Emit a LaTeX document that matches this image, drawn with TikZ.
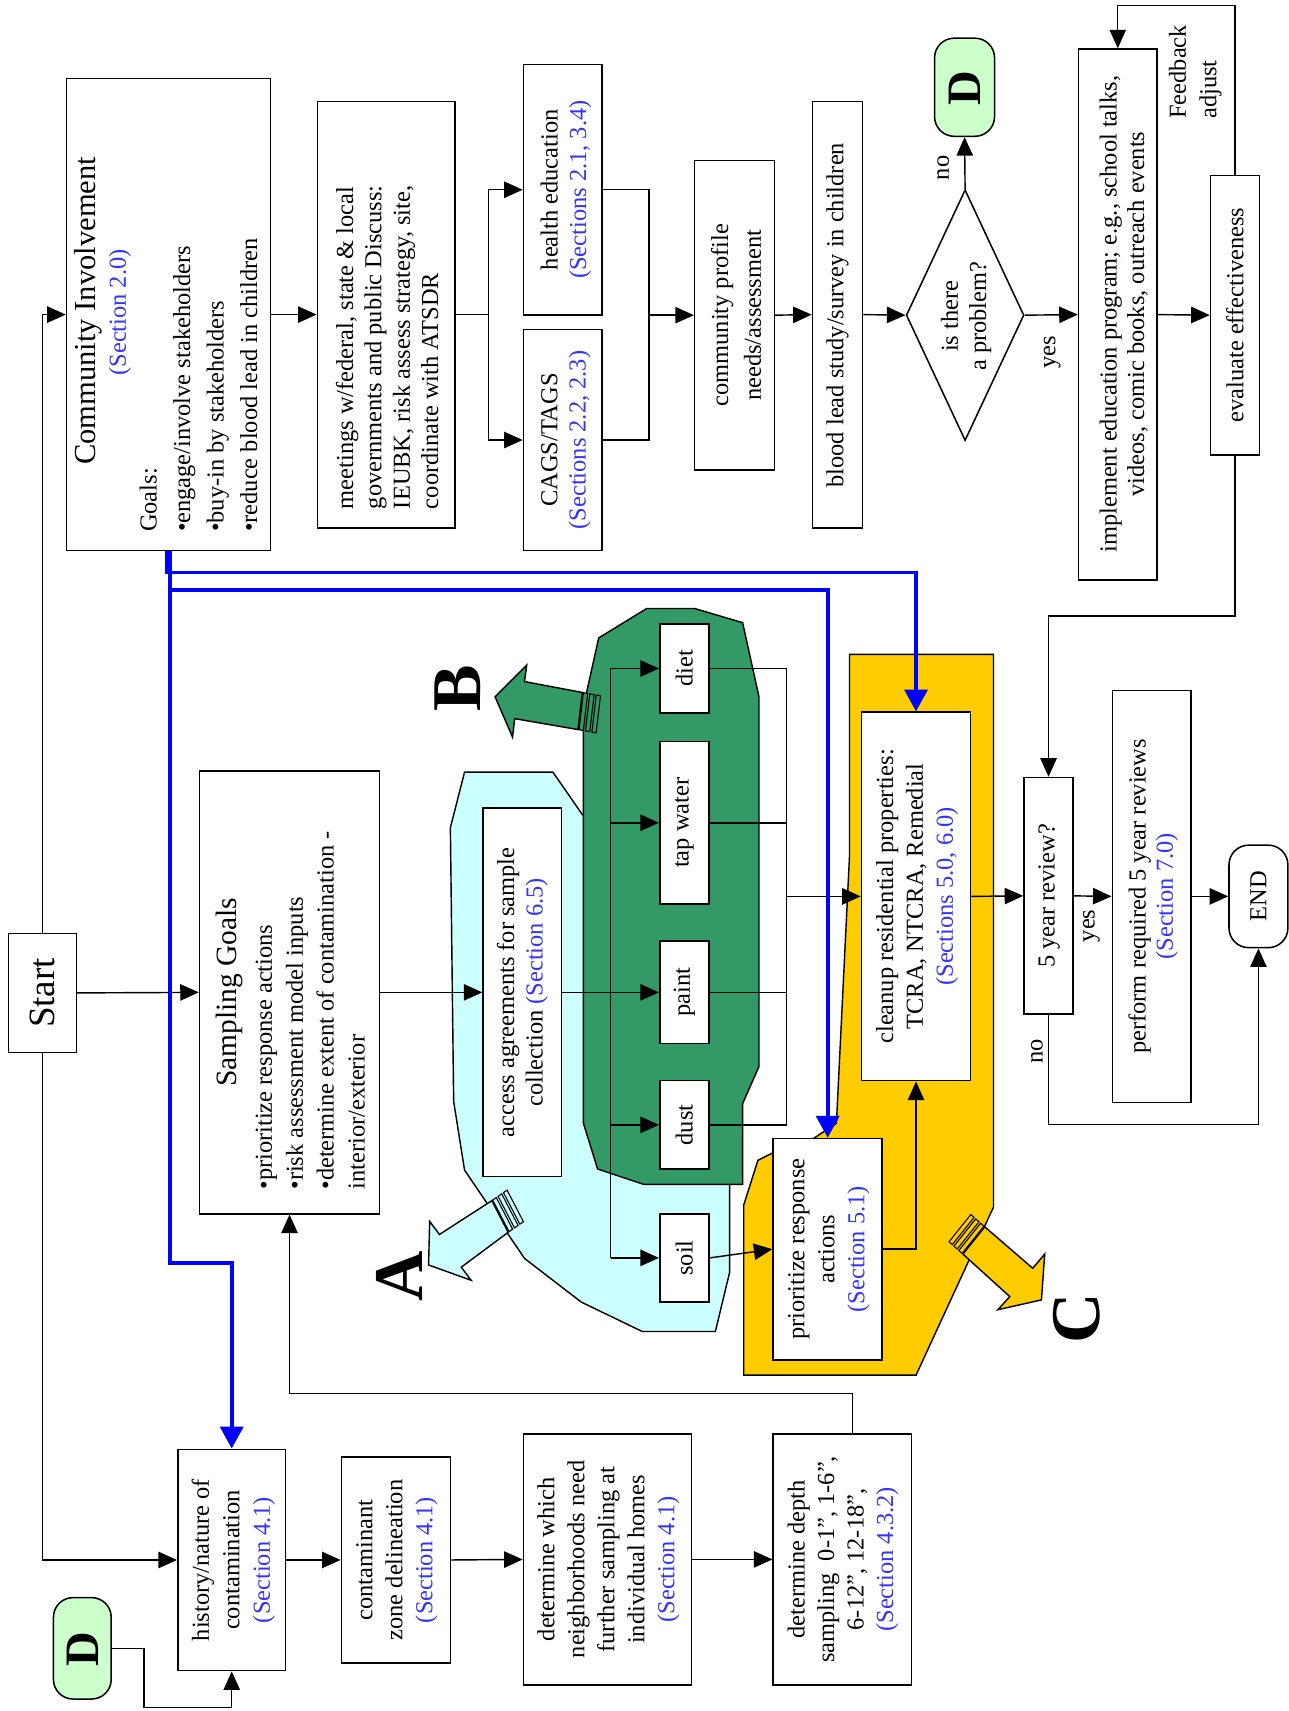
\documentclass[tikz,border=0pt]{standalone}
\usepackage{fontspec}
\setmainfont{Liberation Serif}
\usetikzlibrary{arrows.meta,fit,calc,shapes.geometric}
\definecolor{secblue}{RGB}{51,51,255}
\definecolor{cyanA}{RGB}{204,255,255}
\definecolor{greenB}{RGB}{51,153,102}
\definecolor{yellowC}{RGB}{255,204,0}
\definecolor{termgreen}{RGB}{204,255,204}
\definecolor{linkblue}{RGB}{0,0,255}
\newcommand\fs[2]{\fontsize{#1}{#2}\selectfont}
\newcommand\sref[1]{\textcolor{secblue}{#1}}
\newcommand\bx[6][]{\node[box,#1,fit={(#3,#4) (#5,#6)}] (#2) {};}
\newcommand\stripes[4]{\foreach \sa/\sb in {1/5,7/11,13/17}{\filldraw[region,line width=1pt,fill=#4] ($(#1)+\sa*(#3)$) -- ($(#1)+\sb*(#3)$) -- ($(#2)+\sb*(#3)$) -- ($(#2)+\sa*(#3)$) -- cycle;}}
\begin{document}
\begin{tikzpicture}[x=1pt,y=-1pt,
 box/.style={draw, line width=1.4pt, fill=white, inner sep=0pt},
 term/.style={fill=termgreen, rounded corners=18pt},
 txt/.style={rotate=90, align=center, inner sep=0pt, font=\fs{22.4}{26}},
 arr/.style={line width=1.3pt, -{Triangle[length=17pt,width=15pt]}},
 ln/.style={line width=1.3pt},
 barr/.style={draw=linkblue, line width=3.5pt, -{Triangle[length=20pt,width=21pt]}},
 region/.style={draw, line width=1.3pt},
 big/.style={rotate=90, inner sep=0pt, font=\fs{64}{64}\bfseries},
]
\useasboundingbox (0,0) rectangle (1182,1569);
\fill[white] (0,0) rectangle (1182,1569);

% ---------- regions A, B, C ----------
\filldraw[region,fill=cyanA] (426,708) -- (507,708) -- (534,747) -- (669,747) -- (669,1167) -- (656,1221) -- (589,1221) -- (533,1194) -- (481,1154) -- (426,1073) -- (416,1010) -- (413,759) -- cycle;
\coordinate (a1) at (451,1101); \coordinate (a2) at (466,1130);
\filldraw[region,fill=cyanA] (a1) -- (403,1132) -- (394,1120) -- (393,1160) -- (432,1174) -- (423,1162) -- (a2) -- cycle;
\stripes{a1}{a2}{0.823,-0.57}{cyanA}

\filldraw[region,fill=greenB] (549,585) -- (593,558) -- (637,558) -- (681,571) -- (696,639) -- (696,978) -- (681,1012) -- (681,1086) -- (590,1086) -- (548,1072) -- (535,1030) -- (535,648) -- cycle;
\coordinate (b1) at (534,635); \coordinate (b2) at (530,669);
\filldraw[region,fill=greenB] (b1) -- (481,625) -- (483,610) -- (454,639) -- (470,676) -- (472,659) -- (b2) -- cycle;
\stripes{b1}{b2}{0.98,0.175}{greenB}

\filldraw[region,fill=yellowC] (779,600) -- (911,600) -- (911,1107) -- (840,1261) -- (682,1261) -- (682,1105) -- (695,1064) -- (709,1057) -- (746,1044) -- (767,1030) -- (779,785) -- cycle;
\coordinate (c1) at (903,1125); \coordinate (c2) at (883,1150);
\filldraw[region,fill=yellowC] (c1) -- (947,1163) -- (958,1150) -- (955,1192) -- (915,1201) -- (926,1189) -- (c2) -- cycle;
\stripes{c1}{c2}{-0.75,-0.664}{yellowC}

\node[big] (lA) at (366,1170) {A};
\node[big] (lB) at (420,631) {B};
\node[big] (lC) at (987,1209) {C};

% ---------- boxes ----------
\bx{ci}{61}{72}{248}{505}
\bx{meet}{291}{93}{417}{484}
\bx{health}{480}{59}{552}{289}
\bx{cags}{480}{302}{552}{505}
\bx{cp}{637}{147}{710}{431}
\bx{bl}{745}{93}{791}{484}
\node[diamond, draw, line width=1.4pt, fill=white, minimum width=108pt, minimum height=230pt, inner sep=0pt] (dia) at (885,289) {};
\bx[term]{Dtop}{857}{35}{912}{125}
\bx{impl}{989}{45}{1061}{532}
\bx{eval}{1110}{161}{1155}{417}
\bx{st}{8}{856}{70}{965}
\bx{sg}{183}{707}{348}{1113}
\bx{acc}{443}{741}{515}{1079}
\bx{diet}{605}{572}{650}{654}
\bx{tap}{605}{680}{650}{829}
\bx{paint}{605}{863}{650}{957}
\bx{dust}{605}{991}{650}{1072}
\bx{soil}{605}{1113}{650}{1194}
\bx{cu}{790}{653}{890}{991}
\bx{prio}{709}{1044}{809}{1247}
\bx{fy}{939}{713}{984}{930}
\bx{perf}{1020}{633}{1092}{1011}
\bx[rounded corners=18pt]{end}{1127}{775}{1181}{869}
\bx{hist}{163}{1329}{262}{1532}
\bx{cont}{313}{1336}{413}{1525}
\bx{dw}{480}{1315}{634}{1545}
\bx{dd}{709}{1315}{836}{1545}
\bx[term]{Dbot}{49}{1465}{102}{1558}

% ---------- texts ----------
\node[txt] (ci-t1) at (81,285) {\fs{28}{30}Community Involvement};
\node[txt] (ci-t2) at (110,286.5) {\sref{(Section 2.0)}};
\node[txt, anchor=west, align=left, font=\fs{22.4}{30.7}] (ci-g) at (182,488) {Goals:\\•engage/involve stakeholders\\•buy-in by stakeholders\\•reduce blood lead in children};
\node[txt, anchor=west, align=left] (meet-t) at (355,467) {meetings w/federal, state \& local\\governments and public Discuss:\\IEUBK, risk assess strategy, site,\\coordinate with ATSDR};
\node[txt] (health-t) at (519,174) {health education\\\sref{(Sections 2.1, 3.4)}};
\node[txt] (cags-t) at (519,403.5) {CAGS/TAGS\\\sref{(Sections 2.2, 2.3)}};
\node[txt, font=\fs{22.4}{30}] (cp-t) at (675,289) {community profile\\needs/assessment};
\node[txt] (bl-t) at (768,289) {blood lead study/survey in children};
\node[txt] (dia-t) at (886,290) {is there\\a problem?};
\node[txt, font=\fs{44}{44}\bfseries] (Dtop-t) at (885,81) {D};
\node[txt] (no1) at (865,154) {no};
\node[txt] (yes1) at (965,323) {yes};
\node[txt, font=\fs{22.4}{25}] (impl-t) at (1030.5,288) {implement education program; e.g., school talks,\\videos, comic books, outreach events};
\node[txt] (eval-t) at (1132.5,289) {evaluate effectiveness};
\node[txt, anchor=west, align=left, font=\fs{22.4}{28}] (fb-t) at (1096,109) {Feedback\\adjust};
\node[txt] (st-t) at (39,910.5) {\fs{34}{34}Start};
\node[txt] (sg-t1) at (210,910) {\fs{27}{30}Sampling Goals};
\node[txt, anchor=west, align=left, font=\fs{22.4}{28.3}] (sg-t2) at (284.5,1091) {•prioritize response actions\\•risk assessment model inputs\\•determine extent of contamination -\\interior/exterior};
\node[txt] (acc-t) at (479,910) {access agreements for sample\\collection \sref{(Section 6.5)}};
\node[txt] (diet-t) at (627.5,613) {diet};
\node[txt] (tap-t) at (627.5,754.5) {tap water};
\node[txt] (paint-t) at (627.5,910) {paint};
\node[txt] (dust-t) at (627.5,1031.5) {dust};
\node[txt] (soil-t) at (627.5,1153.5) {soil};
\node[txt, font=\fs{22.4}{27.5}] (cu-t) at (841,822) {cleanup residential properties:\\TCRA, NTCRA, Remedial\\\sref{(Sections 5.0, 6.0)}};
\node[txt, font=\fs{22.4}{27.5}] (prio-t) at (760,1145.5) {prioritize response\\actions\\\sref{(Section 5.1)}};
\node[txt] (fy-t) at (962,821.5) {5 year review?};
\node[txt] (yes2) at (1001,849) {yes};
\node[txt] (no2) at (951,964) {no};
\node[txt, font=\fs{22.4}{25}] (perf-t) at (1057.5,822) {perform required 5 year reviews\\\sref{(Section 7.0)}};
\node[txt] (end-t) at (1154,822) {END};
\node[txt, font=\fs{22.4}{28}] (hist-t) at (214,1430.5) {history/nature of\\contamination\\\sref{(Section 4.1)}};
\node[txt, font=\fs{22.4}{27.5}] (cont-t) at (364,1430.5) {contaminant\\zone delineation\\\sref{(Section 4.1)}};
\node[txt, font=\fs{22.4}{27.5}] (dw-t) at (558,1430) {determine which\\neighborhoods need\\further sampling at\\individual homes\\\sref{(Section 4.1)}};
\node[txt, font=\fs{22.4}{27}] (dd-t) at (773,1430) {determine depth\\sampling\ \ 0-1”, 1-6”,\\6-12”, 12-18”,\\\sref{(Section 4.3.2)}};
\node[txt, font=\fs{44}{44}\bfseries] (Dbot-t) at (76,1512) {D};

% ---------- black connectors ----------
\draw[arr] (st.north) |- (ci.west);
\draw[arr] (st.south) |- (hist.west);
\draw[arr] (st.east) -- (sg.west);
\draw[arr] (ci.east) -- (meet.west);
\coordinate (br) at (448,288.5);
\draw[ln] (meet.east) -- (br);
\draw[arr] (br) |- (health.west);
\draw[arr] (br) |- (cags.west);
\coordinate (mg) at (595,289);
\draw[ln] (health.east) -| (mg);
\draw[ln] (cags.east) -| (mg);
\draw[arr] (mg) -- (cp.west);
\draw[arr] (cp.east) -- (bl.west);
\draw[arr] (bl.east) -- (dia.west);
\draw[arr] (dia.north) -- (Dtop.south);
\draw[arr] (dia.east) -- (impl.west);
\draw[arr] (impl.east) -- (eval.west);
\coordinate (fb) at (1132.5,5);
\draw[arr] (eval.north) -- (fb) -| (impl.north);
\coordinate (ev2) at (1132.5,565);
\draw[arr] (eval.south) -- (ev2) -| (fy.north);
\draw[arr] (sg.east) -- (acc.west);
\draw[arr] (acc.east) -- (paint.west);
\coordinate (bt) at (560,613);
\coordinate (bb) at (560,1153.5);
\draw[ln] (bt) -- (bb);
\draw[arr] (bt) -- (diet.west);
\draw[arr] (bt |- tap.west) -- (tap.west);
\draw[arr] (bt |- dust.west) -- (dust.west);
\draw[arr] (bb) -- (soil.west);
\coordinate (ct) at (721,613);
\coordinate (cb) at (721,1031.5);
\draw[ln] (diet.east) -- (ct) -- (cb) -- (dust.east);
\draw[ln] (tap.east) -- (tap.east -| ct);
\draw[ln] (paint.east) -- (paint.east -| ct);
\draw[arr] (ct |- cu.west) -- (cu.west);
\draw[arr] (soil.east) -- (prio.west);
\draw[arr] (prio.east) -| (cu.south);
\draw[arr] (cu.east) -- (fy.west);
\draw[arr] (fy.east) -- (perf.west);
\draw[arr] (perf.east) -- (end.west);
\coordinate (nw) at (961.5,1031);
\draw[arr] (fy.south) -- (nw) -| (end.south);
\draw[arr] (hist.east) -- (cont.west);
\draw[arr] (cont.east) -- (dw.west);
\draw[arr] (dw.east) -- (dd.west);
\coordinate (r1) at (782,1278);
\draw[arr] (dd.north -| r1) -- (r1) -| (sg.south);
\coordinate (dj) at (132,1566);
\draw[arr] (Dbot.east) -| (dj) -| (hist.south);

% ---------- blue connectors ----------
\coordinate (q1) at (840,525);
\coordinate (q2) at (759,541);
\coordinate (q3) at (212.5,1158);
\draw[barr] ([xshift=-1.5pt]ci.south) |- (q1) -- (cu.north);
\draw[barr] ([xshift=1.5pt]ci.south) |- (q2) -- (prio.north);
\draw[barr] ([xshift=1.5pt]ci.south) |- (q3) -- (hist.north);
\end{tikzpicture}
\end{document}
